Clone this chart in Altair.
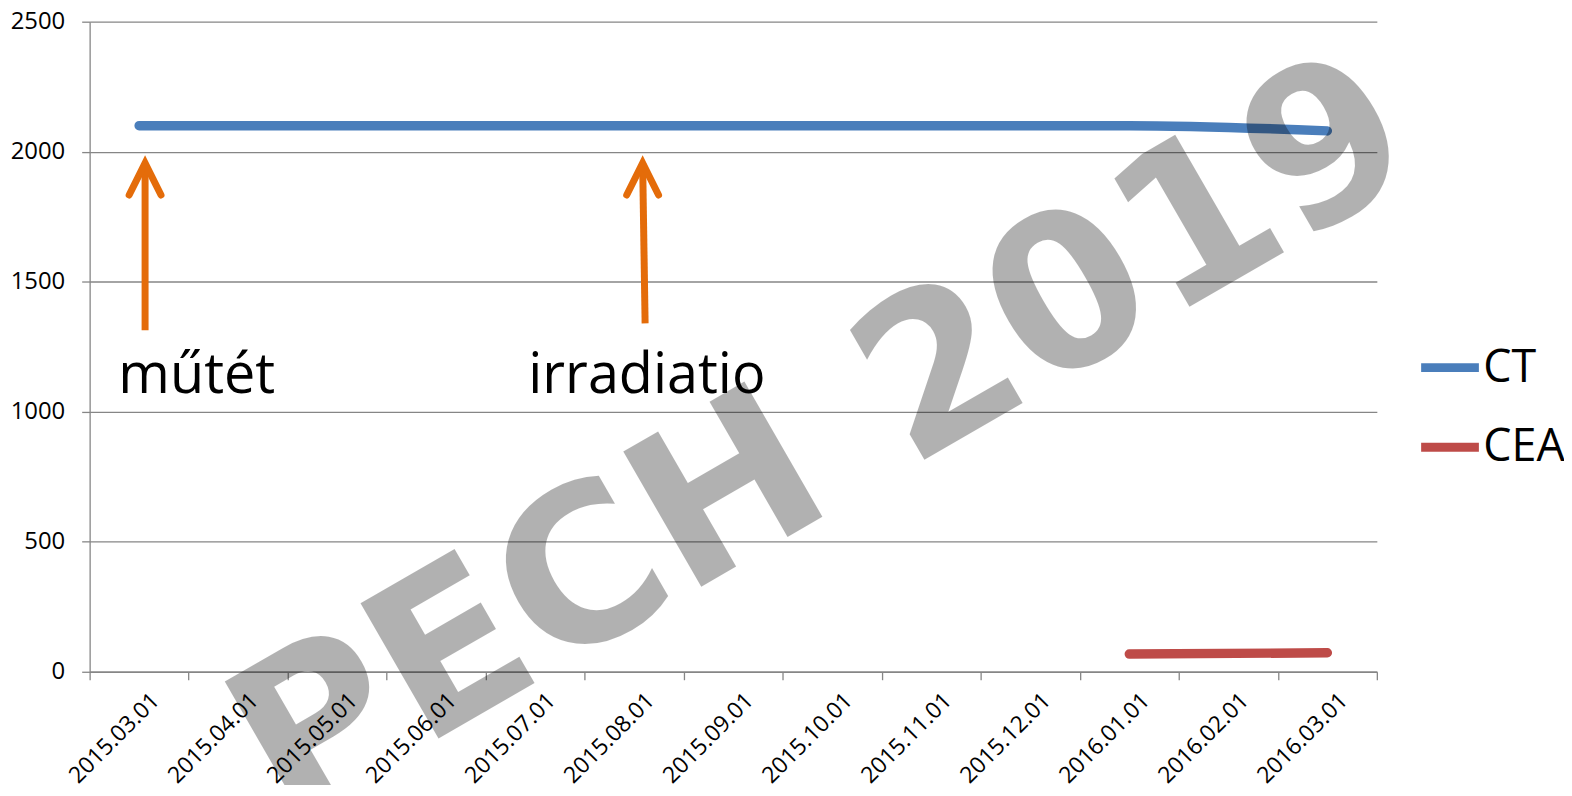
import altair as alt
import pandas as pd

# ---- data ----
months = ["2015.03.01", "2015.04.01", "2015.05.01", "2015.06.01", "2015.07.01",
          "2015.08.01", "2015.09.01", "2015.10.01", "2015.11.01", "2015.12.01",
          "2016.01.01", "2016.02.01", "2016.03.01"]

ct_months = ["2015.03.01", "2016.01.01", "2016.03.01"]
ct_values = [2100, 2100, 2080]

cea_months = ["2016.01.01", "2016.03.01"]
cea_values = [68, 73]

series_names = ["CT", "CEA"]
series_colors = ["#4A7EBB", "#BE4B48"]

# annotations (events)
event_labels = ["műtét", "irradiatio"]
event_text_x = [0.29, 4.43]          # month-index units
event_text_y = [1072, 1072]
arrow_x_bottom = [0.56, 5.61]
arrow_x_top = [0.56, 5.585]
arrow_y_bottom = [1313, 1340]
arrow_y_top = [1956, 1956]

watermark_words = ["PECH", "2019"]

# ---- tables ----
rows = []
for m, v in zip(ct_months, ct_values):
    rows.append({"series": "CT", "x": months.index(m) + 0.5, "value": v})
for m, v in zip(cea_months, cea_values):
    rows.append({"series": "CEA", "x": months.index(m) + 0.5, "value": v})
df = pd.DataFrame(rows)

ev = pd.DataFrame({
    "label": event_labels,
    "tx": event_text_x, "ty": event_text_y,
    "xb": arrow_x_bottom, "xt": arrow_x_top,
    "yb": arrow_y_bottom, "yt": arrow_y_top,
})

label_array = "[" + ",".join("'%s'" % m for m in months) + "]"

xscale = alt.Scale(domain=[0, len(months)], nice=False, zero=False)
yscale = alt.Scale(domain=[0, 2500], nice=False)

x_axis = alt.Axis(
    values=list(range(len(months) + 1)),
    labelExpr=label_array + "[datum.value] || ''",
    labelAngle=-45, labelAlign="right", labelBaseline="middle",
    labelOffset=66, labelPadding=17, tickSize=8, grid=False,
    title=None, labelFontSize=23, labelFont="Open Sans", labelColor="black",
    labelOverlap=False, labelBound=False, labelFlush=False,
)
y_axis = alt.Axis(
    values=[0, 500, 1000, 1500, 2000, 2500], format="d", tickSize=8, labelPadding=17,
    grid=True, title=None, labelFontSize=24, labelFont="Open Sans", labelColor="black",
)

lines = alt.Chart(df).mark_line(strokeWidth=9.5, strokeCap="round", interpolate="monotone").encode(
    x=alt.X("x:Q", scale=xscale, axis=x_axis),
    y=alt.Y("value:Q", scale=yscale, axis=y_axis),
    color=alt.Color("series:N", scale=alt.Scale(domain=series_names, range=series_colors),
                    sort=series_names,
                    legend=alt.Legend(title=None, orient="none", legendX=1333, legendY=314,
                                      symbolType="stroke", symbolSize=3364, symbolStrokeWidth=9,
                                      labelFontSize=45, labelFont="Open Sans", labelColor="black",
                                      labelOffset=0, rowPadding=23, padding=0)),
    detail="series:N",
)

shafts = alt.Chart(ev).mark_rule(color="#E46C0A", strokeWidth=7).encode(
    x=alt.X("xb:Q", scale=xscale), x2="xt:Q",
    y=alt.Y("yb:Q", scale=yscale), y2="yt:Q",
)

heads = alt.Chart(ev).mark_point(
    shape="M-0.5,1L0,0L0.5,1", filled=False, stroke="#E46C0A", strokeWidth=7,
    strokeCap="round", strokeJoin="miter", size=4096, opacity=1,
).encode(
    x=alt.X("xt:Q", scale=xscale),
    y=alt.Y("yt:Q", scale=yscale),
)

texts = alt.Chart(ev).mark_text(
    align="left", baseline="alphabetic", fontSize=56, font="Open Sans", color="black",
).encode(
    x=alt.X("tx:Q", scale=xscale),
    y=alt.Y("ty:Q", scale=yscale),
    text="label:N",
)

wm_style = dict(align="center", baseline="alphabetic", angle=330, fontSize=215,
                font="DejaVu Sans", fontWeight="bold", color="black", opacity=0.3)
wm1 = alt.Chart(pd.DataFrame({"t": [watermark_words[0]]})).mark_text(**wm_style).encode(
    x=alt.value(475), y=alt.value(648), text="t:N",
)
wm2 = alt.Chart(pd.DataFrame({"t": [watermark_words[1]]})).mark_text(**wm_style).encode(
    x=alt.value(1083), y=alt.value(299), text="t:N",
)

chart = alt.layer(lines, shafts, heads, texts, wm1, wm2).properties(
    width=1293, height=653,
    autosize=alt.AutoSizeParams(type="none"),
    padding={"left": 82, "top": 12, "right": 188, "bottom": 112},
).configure_view(stroke=None).configure_axis(
    domainColor="#868686", tickColor="#868686", gridColor="#868686",
    domainWidth=1.3, tickWidth=1.3, gridWidth=1.3, gridOpacity=1,
)

chart.save("out.html", embed_options={"renderer": "svg", "actions": False})
